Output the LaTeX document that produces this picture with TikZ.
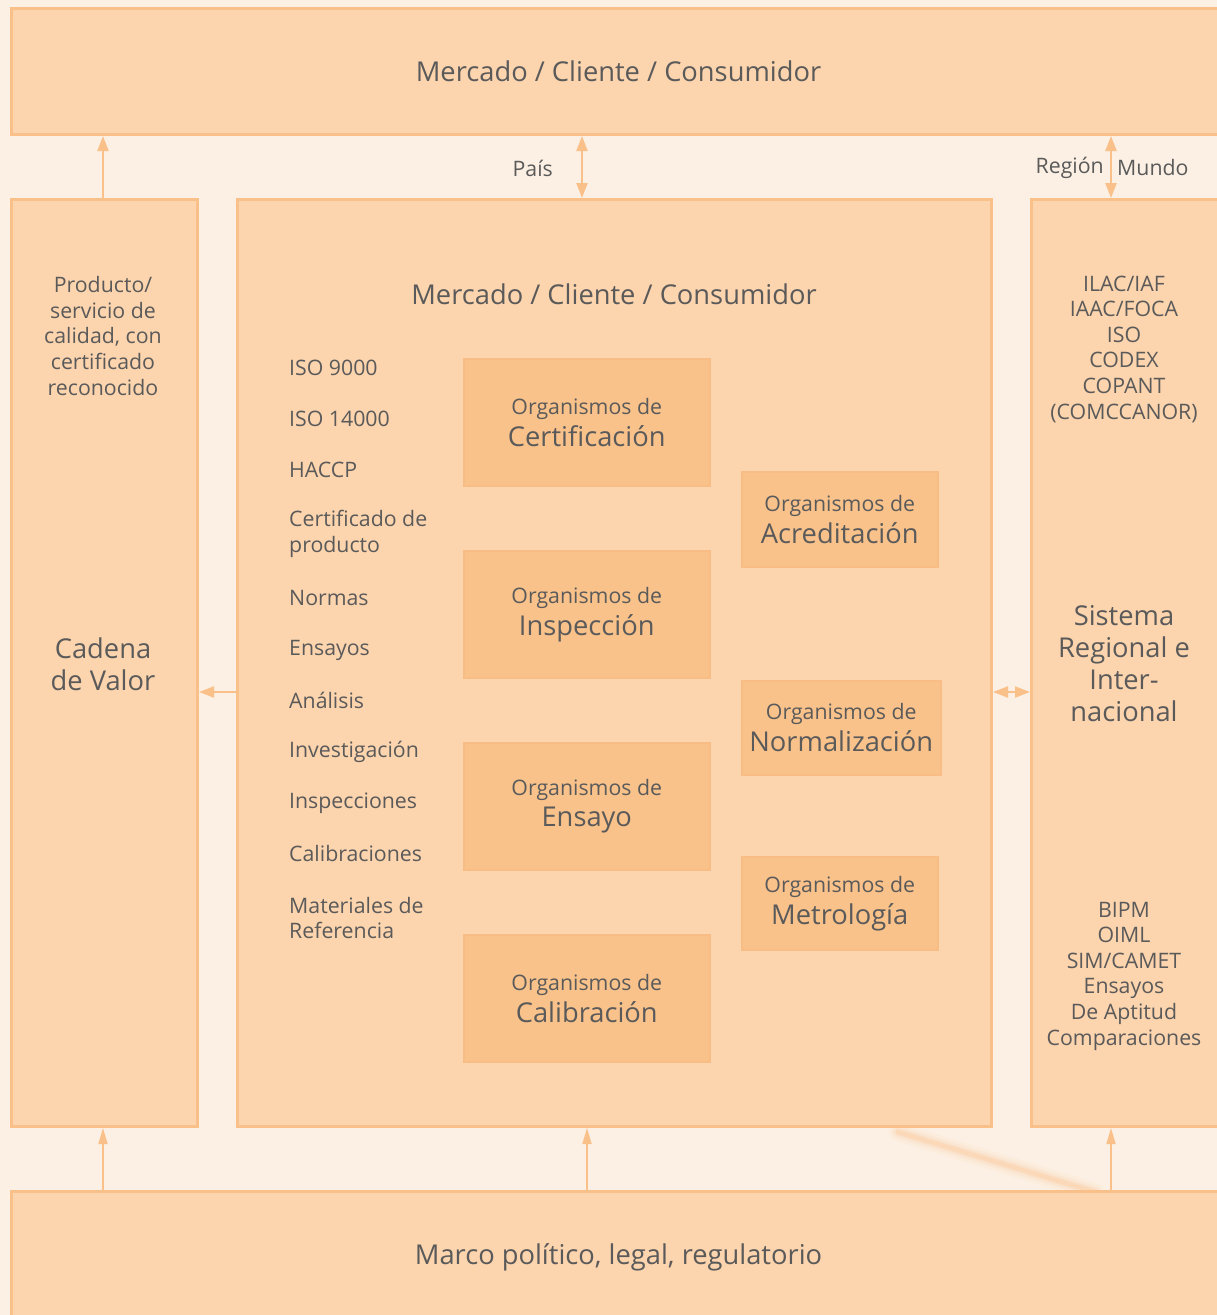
\documentclass[tikz,border=0pt]{standalone}
\usepackage{fontspec}
\setmainfont{Open Sans}
\usetikzlibrary{arrows.meta}
\definecolor{bg}{HTML}{FCF0E4}
\definecolor{boxfill}{HTML}{FCD4AD}
\definecolor{boxline}{HTML}{FAC08A}
\definecolor{orgfill}{HTML}{F9C28B}
\definecolor{orgline}{HTML}{F7BD84}
\definecolor{txt}{HTML}{5A5A5A}
\begin{document}
\begin{tikzpicture}[x=1pt,y=-1pt,
  panel/.style={draw=boxline, fill=boxfill, line width=3pt, anchor=north west, inner sep=0pt, text=txt},
  org/.style={draw=orgline, fill=orgfill, line width=1.5pt, anchor=north west, inner sep=0pt, text=txt, align=center},
  small/.style={text=txt, font=\fontsize{21.3}{25.6}\selectfont, inner sep=0pt},
  big/.style={text=txt, font=\fontsize{27.3}{32}\selectfont, inner sep=0pt},
  arr/.style={draw=boxline, line width=2.2pt, -{Triangle[width=11pt,length=15pt]}},
  darr/.style={draw=boxline, line width=2.2pt, {Triangle[width=11pt,length=15pt]}-{Triangle[width=11pt,length=15pt]}},
  thinarr/.style={draw=boxline, line width=1.6pt, -{Triangle[width=9pt,length=16pt]}}
]
\useasboundingbox (0,0) rectangle (1217,1315);
\clip (0,0) rectangle (1217,1315);
\fill[bg] (0,0) rectangle (1217,1315);
% faint decorative streak
\foreach \w/\o in {18/0.08, 12/0.12, 7/0.18, 4/0.22}
  \draw[line width=\w pt, color=boxline, opacity=\o, line cap=round] (898,1132) -- (1095,1192);

% panels
\node[panel, minimum width=1214pt, minimum height=126pt] (top) at (10,7)
  {\fontsize{27.3}{32}\selectfont Mercado / Cliente / Consumidor};
\node[panel, minimum width=186pt, minimum height=927pt] (left) at (10,198) {};
\node[panel, minimum width=754pt, minimum height=927pt] (center) at (236,198) {};
\node[panel, minimum width=194pt, minimum height=927pt] (right) at (1030,198) {};
\node[panel, minimum width=1214pt, minimum height=132pt] (bottom) at (10,1190)
  {\fontsize{27.3}{32}\selectfont Marco político, legal, regulatorio};

% left panel texts
\node[small, align=center] (lt1) at (103,336)
  {Producto/\\servicio de\\calidad, con\\certificado\\reconocido};
\node[big, align=center] (lt2) at (103,664) {Cadena\\de Valor};

% right panel texts
\node[small, align=center] (rt1) at (1124,349)
  {ILAC/IAF\\IAAC/FOCA\\ISO\\CODEX\\COPANT\\(COMCCANOR)};
\node[big, align=center] (rt2) at (1124,664) {Sistema\\Regional e\\Inter-\\nacional};
\node[small, align=center] (rt3) at (1124,976)
  {BIPM\\OIML\\SIM/CAMET\\Ensayos\\De Aptitud\\Comparaciones};

% center heading
\node[big] (chead) at (614,294) {Mercado / Cliente / Consumidor};

% list
\node[small, anchor=west] (l1) at (289,368) {ISO 9000};
\node[small, anchor=west] (l2) at (289,419) {ISO 14000};
\node[small, anchor=west] (l3) at (289,470) {HACCP};
\node[small, anchor=west, align=left] (l4) at (289,534) {Certificado de\\producto};
\node[small, anchor=west] (l5) at (289,598) {Normas};
\node[small, anchor=west] (l6) at (289,650) {Ensayos};
\node[small, anchor=west] (l7) at (289,700) {Análisis};
\node[small, anchor=west] (l8) at (289,752) {Investigación};
\node[small, anchor=west] (l9) at (289,803) {Inspecciones};
\node[small, anchor=west] (l10) at (289,854) {Calibraciones};
\node[small, anchor=west, align=left] (l11) at (289,918) {Materiales de\\Referencia};

% organism boxes
\newcommand{\orgtxt}[1]{{\fontsize{21.3}{30}\selectfont Organismos de}\\[5pt]{\fontsize{27.3}{30}\selectfont #1}}
\node[org, minimum width=246pt, minimum height=127pt] (cert) at (463,358) {\orgtxt{Certificación}};
\node[org, minimum width=246pt, minimum height=127pt] (insp) at (463,550) {\orgtxt{Inspección}};
\node[org, minimum width=246pt, minimum height=127pt] (ens) at (463,742) {\orgtxt{Ensayo}};
\node[org, minimum width=246pt, minimum height=127pt] (cal) at (463,934) {\orgtxt{Calibración}};
\node[org, minimum width=196pt, minimum height=95pt] (acr) at (741,471) {\orgtxt{Acreditación}};
\node[org, minimum width=199pt, minimum height=94pt] (norm) at (741,680) {\orgtxt{Normalización}};
\node[org, minimum width=196pt, minimum height=93pt] (met) at (741,856) {\orgtxt{Metrología}};

% connectors top
\draw[arr] (left.north -| 103,0) -- (top.south -| 103,0);
\draw[darr] (center.north -| 582,0) -- (top.south -| 582,0);
\draw[darr] (right.north -| 1111,0) -- (top.south -| 1111,0);
\node[small, anchor=east] (pais) at (553,168) {País};
\node[small, anchor=east] (region) at (1104,168) {Región};
\node[small, anchor=west] (mundo) at (1117,168) {Mundo};

% side connectors
\draw[arr] (center.west |- 0,692) -- (left.east |- 0,692);
\draw[darr] (center.east |- 0,692) -- (right.west |- 0,692);

% bottom connectors
\draw[thinarr] (bottom.north -| 103,0) -- (left.south -| 103,0);
\draw[thinarr] (bottom.north -| 587,0) -- (center.south -| 587,0);
\draw[thinarr] (bottom.north -| 1111,0) -- (right.south -| 1111,0);
\end{tikzpicture}
\end{document}
